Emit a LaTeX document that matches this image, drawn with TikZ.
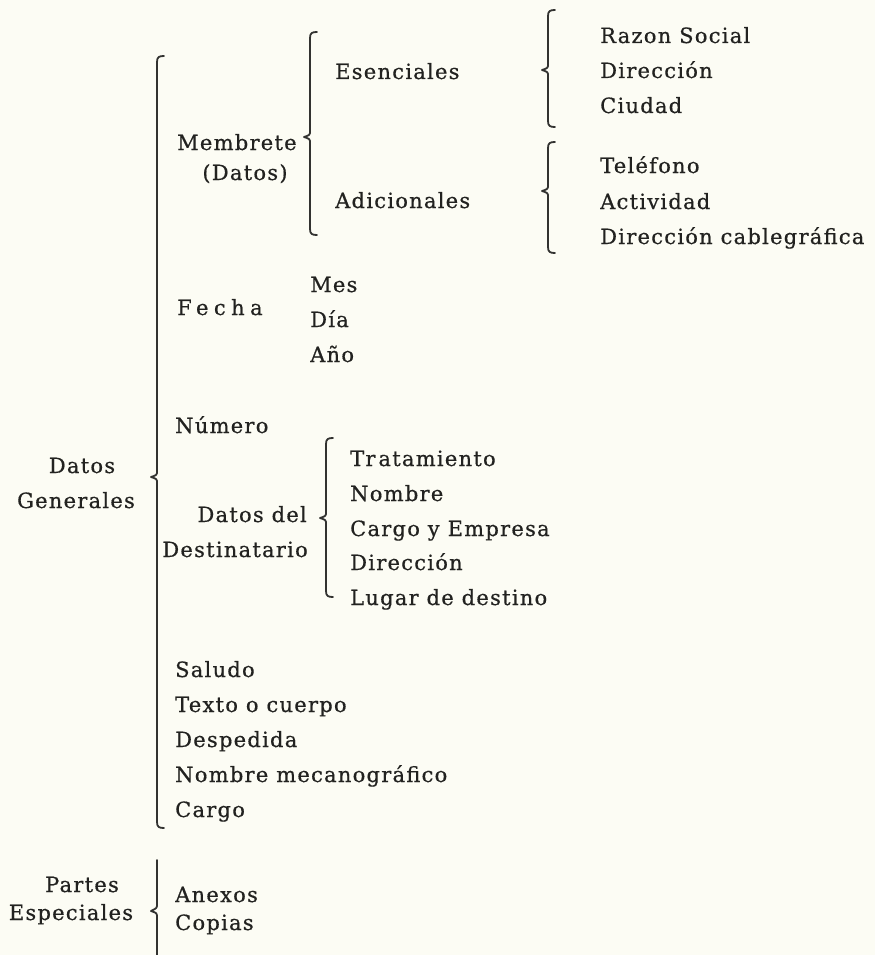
\documentclass[tikz,border=0pt]{standalone}
\usepackage{fontspec}
\newfontfamily\tw{DejaVu Serif}[LetterSpace=6,FakeBold=0.6]
\newfontfamily\twwide{DejaVu Serif}[LetterSpace=26,FakeBold=0.6]
\definecolor{paper}{RGB}{252,252,244}
\definecolor{ink}{RGB}{34,34,32}
\definecolor{brkink}{RGB}{50,50,48}
\newcommand\brkt[4]{%
  \draw[brk] ({#1+7},#2) .. controls ({#1+2},#2) and (#1,{#2+1}) .. (#1,{#2+6})
    -- (#1,{#3-6}) .. controls (#1,{#3-2}) .. ({#1-6},#3)
    .. controls (#1,{#3+2}) .. (#1,{#3+6})
    -- (#1,{#4-6}) .. controls (#1,{#4-1}) and ({#1+2},#4) .. ({#1+7},#4);}
\begin{document}
\begin{tikzpicture}[x=1pt,y=-1pt,
  txt/.style={anchor=base west,inner sep=0pt,text=ink,font=\tw\fontsize{21}{24}\selectfont},
  ctxt/.style={txt,anchor=base},
  rtxt/.style={txt,anchor=base east},
  brk/.style={draw=brkink,line width=1.8pt,line cap=round,line join=round}]
\fill[paper] (0,0) rectangle (875,955);
\useasboundingbox (0,0) rectangle (875,955);
% top level
\node[ctxt] (datos) at (82,473) {Datos};
\node[ctxt] (generales) at (76,508) {Generales};
\node[ctxt] (partes) at (82,892) {Partes};
\node[ctxt] (especiales) at (71,920) {Especiales};
% main brackets
\brkt{157}{56}{477}{828}
\draw[brk] (157,860) -- (157,904) .. controls (157,908) .. (151,911) .. controls (157,913) .. (157,918) -- (157,962);
% Datos Generales children
\node[txt] (membrete) at (177,150) {Membrete};
\node[ctxt] (mdatos) at (245,180) {(Datos)};
\node[txt,font=\twwide\fontsize{21}{24}\selectfont] (fecha) at (177,315) {Fecha};
\node[txt] (numero) at (175,433) {Número};
\node[rtxt] (datosdel) at (307,522) {Datos del};
\node[rtxt] (destinatario) at (308,557) {Destinatario};
\node[txt] (saludo) at (175,677) {Saludo};
\node[txt] (texto) at (175,712) {Texto o cuerpo};
\node[txt] (despedida) at (175,747) {Despedida};
\node[txt] (nombremec) at (175,782) {Nombre mecanográfico};
\node[txt] (cargo) at (175,817) {Cargo};
% Partes Especiales children
\node[txt] (anexos) at (175,902) {Anexos};
\node[txt] (copias) at (175,930) {Copias};
% Membrete
\brkt{310}{32}{137}{235}
\node[txt] (esenciales) at (335,79) {Esenciales};
\node[txt] (adicionales) at (335,208) {Adicionales};
\brkt{548}{10}{70}{127}
\node[txt] (razon) at (600,43) {Razon Social};
\node[txt] (direccion1) at (600,78) {Dirección};
\node[txt] (ciudad) at (600,113) {Ciudad};
\brkt{548}{142}{191}{253}
\node[txt] (telefono) at (600,173) {Teléfono};
\node[txt] (actividad) at (600,209) {Actividad};
\node[txt] (cable) at (600,244) {Dirección cablegráfica};
% Fecha
\node[txt] (mes) at (310,292) {Mes};
\node[txt] (dia) at (310,327) {Día};
\node[txt] (anio) at (310,362) {Año};
% Destinatario
\brkt{326}{438}{518}{597}
\node[txt] (tratamiento) at (350,466) {Tr\hspace{3pt}atamiento};
\node[txt] (nombre) at (350,501) {Nombre};
\node[txt] (cargoemp) at (350,536) {Cargo y Empresa};
\node[txt] (direccion2) at (350,570) {Dirección};
\node[txt] (lugar) at (350,605) {Lugar de destino};
\end{tikzpicture}
\end{document}
